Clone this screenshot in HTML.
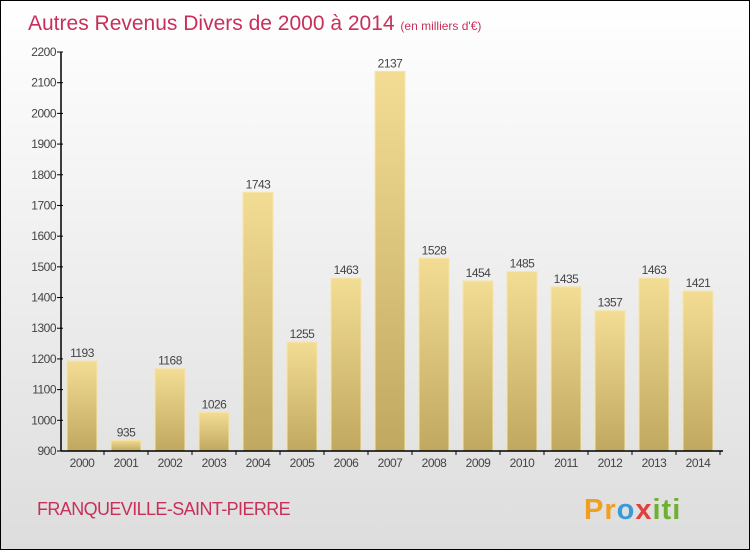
<!DOCTYPE html>
<html><head><meta charset="utf-8"><style>
body{margin:0;}
#c{width:748px;height:548px;border:1px solid #000;position:relative;background:linear-gradient(#fff,#ddd);font-family:"Liberation Sans",sans-serif;overflow:hidden}
</style></head><body>
<div id="c">
<svg id="s" width="748" height="548" style="position:absolute;left:0;top:0">
<text x="27" y="29" font-size="21" fill="#c8305a">Autres Revenus Divers de 2000 à 2014 <tspan font-size="12">(en milliers d'€)</tspan></text>
<text x="36" y="514" font-size="18" fill="#c8305a" letter-spacing="-0.6">FRANQUEVILLE-SAINT-PIERRE</text>
<text x="583" y="518" font-size="29" font-weight="bold" letter-spacing="1"><tspan fill="#f0a020">Pr</tspan><tspan fill="#3a9ad8">o</tspan><tspan fill="#e04040">x</tspan><tspan fill="#70b030">iti</tspan></text>
<defs><linearGradient id="g" x1="0" y1="0" x2="0" y2="1"><stop offset="0" stop-color="#f3dc94"/><stop offset="1" stop-color="#c0a860"/></linearGradient></defs>
</svg>
</div>
<script>
const years=["2000","2001","2002","2003","2004","2005","2006","2007","2008","2009","2010","2011","2012","2013","2014"];
const values=[1193,935,1168,1026,1743,1255,1463,2137,1528,1454,1485,1435,1357,1463,1421];
const ticks=[900,1000,1100,1200,1300,1400,1500,1600,1700,1800,1900,2000,2100,2200];
const s=document.getElementById('s');const NS='http://www.w3.org/2000/svg';
const y0=450,y1=51,vmin=900,vmax=2200;
const Y=v=>y0-(v-vmin)/(vmax-vmin)*(y0-y1);
const X=i=>81+i*44;
function mk(t,a,txt){const e=document.createElementNS(NS,t);for(const k in a)e.setAttribute(k,a[k]);if(txt!==undefined)e.textContent=txt;s.appendChild(e);return e;}
ticks.forEach(t=>{
const l=mk('line',{x1:56,x2:62,y1:Y(t),y2:Y(t),stroke:'#000'});

const tx=mk('text',{x:55,y:Y(t)+4,'font-size':12,'text-anchor':'end',fill:'#444','letter-spacing':'-0.5'},t);

});
values.forEach((v,i)=>{
const r=mk('rect',{x:X(i)-15,y:Y(v),width:30,height:y0-Y(v),fill:'url(#g)',stroke:'#f6e6a8','stroke-width':1});

const vt=mk('text',{x:X(i),y:Y(v)-4,'font-size':12,'text-anchor':'middle',fill:'#444','letter-spacing':'-0.5'},v);

const xt=mk('text',{x:X(i),y:466,'font-size':12,'text-anchor':'middle',fill:'#444','letter-spacing':'-0.5'},years[i]);

const xk=mk('line',{x1:X(i)+22,x2:X(i)+22,y1:y0,y2:y0+4,stroke:'#000'});

});
const ax=mk('line',{x1:60,x2:60,y1:y1,y2:y0,stroke:'#000','stroke-width':1.5});

const bx=mk('line',{x1:60,x2:722,y1:y0,y2:y0,stroke:'#000','stroke-width':1.5});

</script>
</body></html>
